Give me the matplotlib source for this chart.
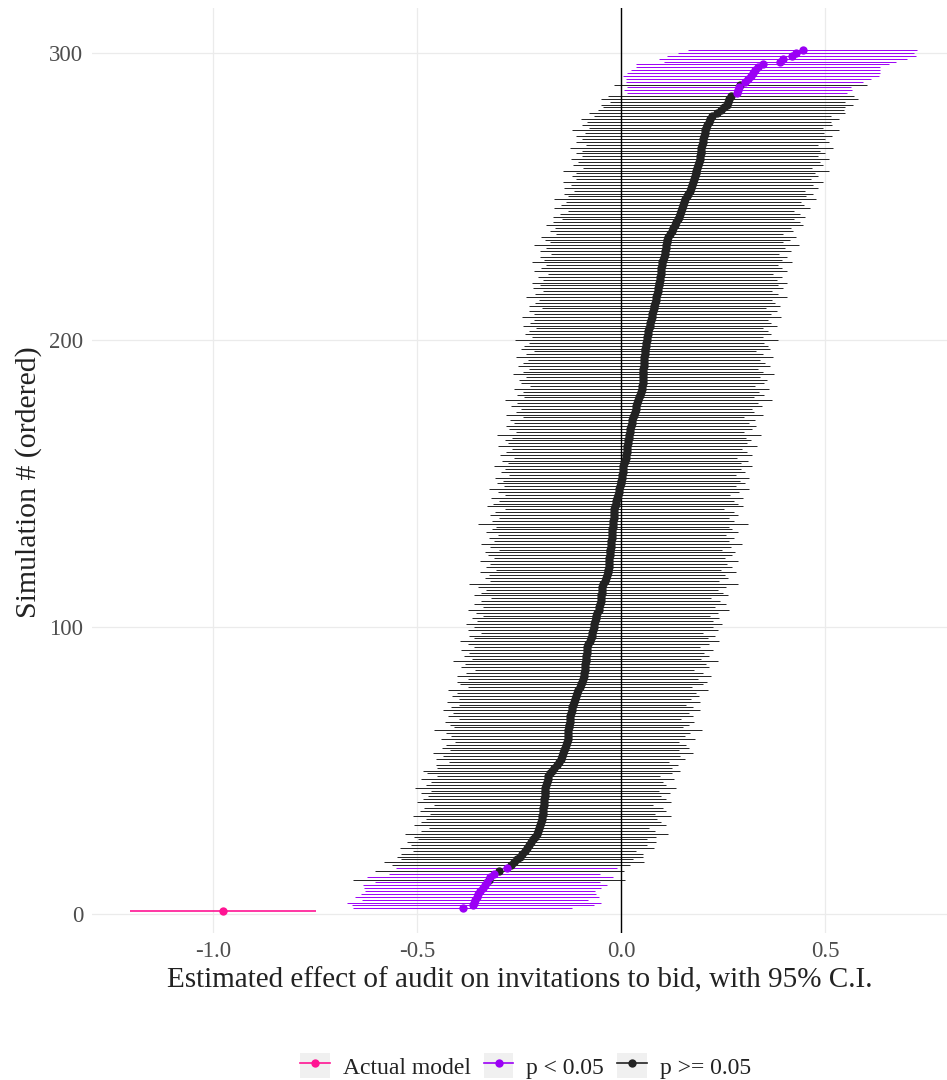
import numpy as np
import matplotlib
matplotlib.use("Agg")
import matplotlib.pyplot as plt
from matplotlib.lines import Line2D
from matplotlib.patches import Rectangle
from matplotlib.legend_handler import HandlerLine2D

plt.rcParams['font.family'] = ['Liberation Serif', 'DejaVu Serif']
plt.rcParams['axes.unicode_minus'] = False

# actual model (drawn in the first row)
actual_est = -0.975
actual_hw = 0.228

# simulated estimates, already ordered (rows 2..301)
sim_est = [
    -0.388, -0.362, -0.360, -0.358, -0.354, -0.350, -0.345, -0.339, -0.334, -0.328,
    -0.324, -0.321, -0.310, -0.298, -0.280, -0.270, -0.262, -0.255, -0.248, -0.242,
    -0.236, -0.230, -0.225, -0.220, -0.216, -0.211, -0.207, -0.204, -0.201, -0.198,
    -0.196, -0.194, -0.193, -0.192, -0.191, -0.190, -0.189, -0.188, -0.188, -0.187,
    -0.186, -0.186, -0.185, -0.184, -0.182, -0.180, -0.178, -0.175, -0.170, -0.163,
    -0.156, -0.152, -0.148, -0.145, -0.142, -0.139, -0.136, -0.134, -0.132, -0.130,
    -0.130, -0.129, -0.129, -0.128, -0.127, -0.126, -0.125, -0.124, -0.122, -0.121,
    -0.120, -0.118, -0.116, -0.113, -0.111, -0.108, -0.105, -0.101, -0.097, -0.095,
    -0.093, -0.091, -0.090, -0.089, -0.088, -0.087, -0.086, -0.085, -0.085, -0.084,
    -0.084, -0.083, -0.080, -0.077, -0.073, -0.071, -0.070, -0.068, -0.067, -0.066,
    -0.064, -0.062, -0.060, -0.058, -0.055, -0.053, -0.051, -0.050, -0.049, -0.048,
    -0.047, -0.047, -0.046, -0.043, -0.040, -0.036, -0.034, -0.032, -0.031, -0.030,
    -0.030, -0.029, -0.029, -0.028, -0.027, -0.026, -0.025, -0.024, -0.024, -0.023,
    -0.022, -0.022, -0.021, -0.020, -0.020, -0.019, -0.018, -0.017, -0.016, -0.016,
    -0.015, -0.013, -0.011, -0.010, -0.008, -0.006, -0.004, -0.002, 0.000, 0.001,
    0.002, 0.003, 0.004, 0.005, 0.006, 0.008, 0.010, 0.012, 0.013, 0.014,
    0.015, 0.016, 0.017, 0.018, 0.019, 0.020, 0.022, 0.023, 0.025, 0.026,
    0.028, 0.030, 0.033, 0.035, 0.037, 0.038, 0.040, 0.042, 0.044, 0.047,
    0.049, 0.051, 0.052, 0.053, 0.054, 0.054, 0.055, 0.055, 0.055, 0.056,
    0.056, 0.056, 0.057, 0.058, 0.059, 0.060, 0.061, 0.062, 0.063, 0.065,
    0.066, 0.067, 0.069, 0.071, 0.072, 0.074, 0.075, 0.077, 0.079, 0.081,
    0.082, 0.084, 0.085, 0.087, 0.088, 0.090, 0.091, 0.093, 0.094, 0.095,
    0.096, 0.097, 0.098, 0.099, 0.100, 0.101, 0.103, 0.105, 0.108, 0.109,
    0.110, 0.111, 0.112, 0.114, 0.116, 0.119, 0.124, 0.128, 0.132, 0.136,
    0.139, 0.142, 0.145, 0.147, 0.149, 0.151, 0.154, 0.158, 0.162, 0.165,
    0.168, 0.171, 0.174, 0.176, 0.178, 0.181, 0.183, 0.185, 0.187, 0.189,
    0.191, 0.193, 0.194, 0.195, 0.196, 0.197, 0.199, 0.200, 0.202, 0.203,
    0.205, 0.207, 0.209, 0.211, 0.215, 0.218, 0.224, 0.235, 0.245, 0.252,
    0.259, 0.262, 0.266, 0.270, 0.285, 0.287, 0.289, 0.292, 0.303, 0.312,
    0.318, 0.324, 0.329, 0.336, 0.347, 0.390, 0.398, 0.418, 0.428, 0.445,
]

# half width of each 95% interval
sim_hw = [
    0.268, 0.297, 0.311, 0.277, 0.299, 0.288, 0.282, 0.290, 0.299, 0.276,
    0.333, 0.302, 0.258, 0.306, 0.271, 0.292, 0.318, 0.284, 0.301, 0.296,
    0.274, 0.312, 0.289, 0.305, 0.281, 0.296, 0.322, 0.287, 0.270, 0.309,
    0.295, 0.283, 0.316, 0.276, 0.301, 0.292, 0.268, 0.311, 0.298, 0.286,
    0.305, 0.279, 0.321, 0.294, 0.284, 0.309, 0.273, 0.300, 0.314, 0.288,
    0.297, 0.269, 0.306, 0.290, 0.318, 0.281, 0.303, 0.294, 0.275, 0.312,
    0.287, 0.299, 0.328, 0.280, 0.293, 0.306, 0.271, 0.301, 0.289, 0.315,
    0.296, 0.278, 0.310, 0.285, 0.302, 0.293, 0.319, 0.274, 0.298, 0.307,
    0.283, 0.312, 0.291, 0.269, 0.304, 0.296, 0.325, 0.281, 0.300, 0.288,
    0.309, 0.277, 0.295, 0.318, 0.286, 0.301, 0.272, 0.306, 0.292, 0.314,
    0.289, 0.303, 0.279, 0.297, 0.321, 0.284, 0.308, 0.293, 0.270, 0.311,
    0.296, 0.285, 0.304, 0.329, 0.281, 0.298, 0.290, 0.313, 0.276, 0.302,
    0.291, 0.317, 0.283, 0.299, 0.307, 0.274, 0.295, 0.320, 0.288, 0.301,
    0.279, 0.310, 0.294, 0.286, 0.331, 0.297, 0.282, 0.305, 0.292, 0.268,
    0.313, 0.300, 0.287, 0.308, 0.276, 0.296, 0.319, 0.284, 0.303, 0.291,
    0.311, 0.278, 0.299, 0.290, 0.316, 0.285, 0.302, 0.273, 0.309, 0.295,
    0.282, 0.318, 0.293, 0.301, 0.287, 0.324, 0.279, 0.297, 0.306, 0.289,
    0.300, 0.271, 0.314, 0.292, 0.283, 0.308, 0.296, 0.327, 0.281, 0.303,
    0.290, 0.312, 0.276, 0.298, 0.305, 0.286, 0.319, 0.294, 0.280, 0.309,
    0.297, 0.284, 0.315, 0.291, 0.273, 0.306, 0.299, 0.288, 0.322, 0.283,
    0.302, 0.293, 0.278, 0.311, 0.296, 0.287, 0.317, 0.290, 0.304, 0.275,
    0.308, 0.294, 0.285, 0.320, 0.298, 0.281, 0.306, 0.292, 0.313, 0.287,
    0.299, 0.276, 0.310, 0.295, 0.284, 0.318, 0.291, 0.303, 0.280, 0.307,
    0.293, 0.325, 0.286, 0.300, 0.312, 0.279, 0.297, 0.289, 0.315, 0.302,
    0.284, 0.309, 0.295, 0.277, 0.314, 0.298, 0.288, 0.321, 0.292, 0.305,
    0.283, 0.311, 0.296, 0.318, 0.287, 0.302, 0.293, 0.326, 0.281, 0.307,
    0.297, 0.316, 0.289, 0.304, 0.291, 0.322, 0.285, 0.310, 0.298, 0.314,
    0.293, 0.328, 0.287, 0.306, 0.299, 0.317, 0.290, 0.313, 0.302, 0.296,
    0.309, 0.288, 0.315, 0.301, 0.270, 0.279, 0.275, 0.310, 0.290, 0.300,
    0.314, 0.310, 0.305, 0.300, 0.310, 0.285, 0.304, 0.306, 0.289, 0.281,
]

labels = ["Actual model", "p < 0.05", "p >= 0.05"]
colors = {"Actual model": "#ff1493", "p < 0.05": "#9b00f5", "p >= 0.05": "#222222"}

est = np.array([actual_est] + sim_est)
hw = np.array([actual_hw] + sim_hw)
lo = est - hw
hi = est + hw
rank = np.arange(1, len(est) + 1)
sig = (lo > 0) | (hi < 0)
group = np.where(sig, "p < 0.05", "p >= 0.05").astype(object)
group[0] = "Actual model"

fig = plt.figure(figsize=(9.47, 10.8), dpi=100)
ax = fig.add_axes([0.0969, 0.1364, 0.9035, 0.8563])

for g in labels[::-1]:
    m = group == g
    lw = 1.2 if g == "Actual model" else 0.7
    ax.hlines(rank[m], lo[m], hi[m], colors=colors[g], lw=lw, zorder=2)
ax.axvline(0, color="black", lw=1.0, zorder=3)
for g in labels[::-1]:
    m = group == g
    ax.plot(est[m], rank[m], "o", ms=6, color=colors[g], mec="none", zorder=4)

ax.set_xlim(-1.297, 0.80)
ax.set_ylim(-6.5, 315.7)
ax.set_xticks([-1.0, -0.5, 0.0, 0.5])
ax.set_xticklabels(["-1.0", "-0.5", "0.0", "0.5"])
ax.set_yticks([0, 100, 200, 300])
ax.grid(True, color="#ebebeb", lw=0.9)
ax.set_axisbelow(True)
for s in ax.spines.values():
    s.set_visible(False)
ax.tick_params(length=0, labelsize=16.5, labelcolor="#4d4d4d", pad=6)

ax.set_xlabel("Estimated effect of audit on invitations to bid, with 95% C.I.",
              fontsize=21, color="#222222", labelpad=4)
ax.set_ylabel("Simulation # (ordered)", fontsize=21.5, color="#222222")
ax.yaxis.set_label_coords(-0.058, 0.487)


class KeyBox(HandlerLine2D):
    def create_artists(self, legend, orig_handle, xdescent, ydescent,
                       width, height, fontsize, trans):
        box = Rectangle((-xdescent, -ydescent), width, height,
                        facecolor="#f0f0f0", edgecolor="none", transform=trans)
        arts = super().create_artists(legend, orig_handle, xdescent, ydescent,
                                      width, height, fontsize, trans)
        return [box] + arts


handles = [Line2D([], [], color=colors[g], lw=1.2, marker="o", ms=6, mec="none")
           for g in labels]
fig.legend(handles, labels, loc="center", bbox_to_anchor=(0.555, 0.013),
           ncol=3, frameon=False, fontsize=17, handlelength=1.25, handleheight=1.25,
           handletextpad=0.55, columnspacing=0.55, labelcolor="#222222",
           handler_map={Line2D: KeyBox()})

fig.savefig("out.png", dpi=100)
